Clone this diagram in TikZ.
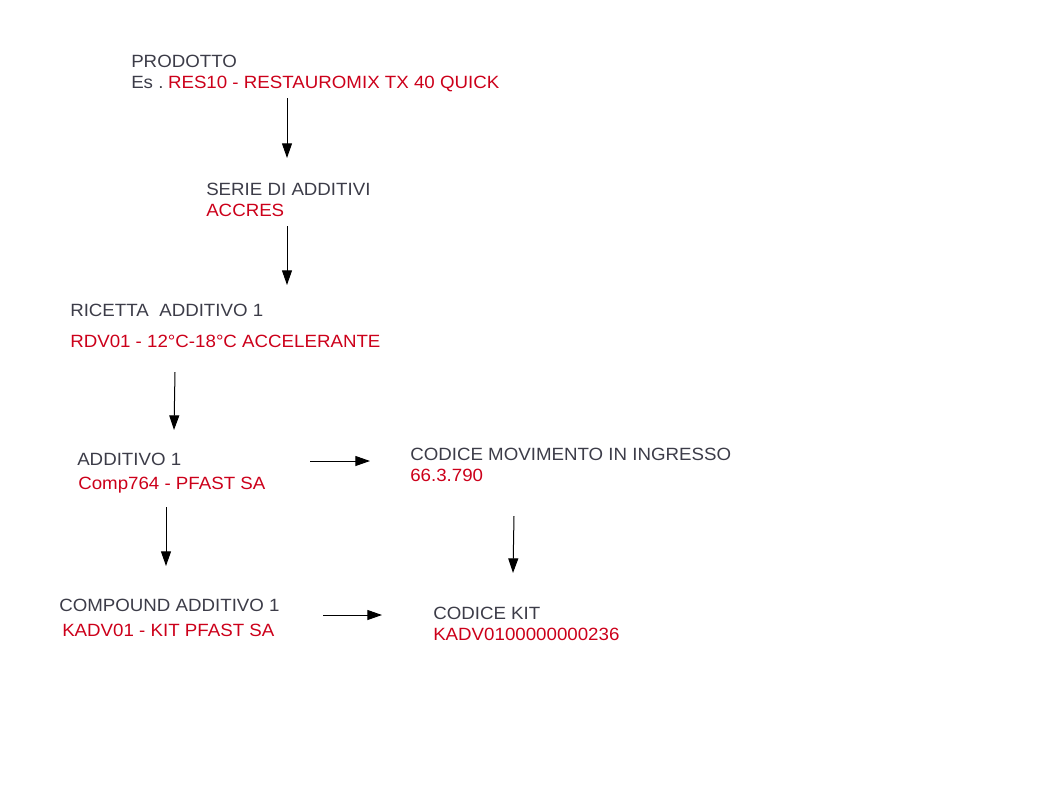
\documentclass[tikz,border=0pt]{standalone}
\usepackage{fontspec}
\setmainfont{Liberation Sans}[FakeStretch=1.055]
\usetikzlibrary{arrows.meta}
\definecolor{txtgray}{RGB}{60,60,72}
\definecolor{txtred}{RGB}{204,0,26}
\tikzset{
  lbl/.style={anchor=base west, inner sep=0pt, font=\fontsize{13.3pt}{16pt}\selectfont, text=txtgray},
  val/.style={lbl, text=txtred},
  conn/.style={line width=0.75pt, -{Triangle[length=11pt,width=7.5pt]}}
}
\begin{document}
\begin{tikzpicture}[x=0.75pt,y=-0.75pt]
\useasboundingbox (0,0) rectangle (1058,794);
% texts
\node[lbl] (prod) at (131,67) {PRODOTTO};
\node[lbl] (es) at (131,88) {Es .\kern3.4pt\textcolor{txtred}{RES10 - RESTAUROMIX TX 40 QUICK}};
\node[lbl] (serie) at (206,195) {SERIE DI ADDITIVI};
\node[val] (accres) at (206,216) {ACCRES};
\node[lbl] (ricetta) at (70,316) {RICETTA\ \ ADDITIVO 1};
\node[val] (rdv) at (70,347) {RDV01 - 12°C-18°C ACCELERANTE};
\node[lbl] (add) at (77,465) {ADDITIVO 1};
\node[val] (comp) at (78,489) {Comp764 - PFAST SA};
\node[lbl] (cod) at (410,460) {CODICE MOVIMENTO IN INGRESSO};
\node[val] (num) at (410,481) {66.3.790};
\node[lbl] (cmp) at (59,611) {COMPOUND ADDITIVO 1};
\node[val] (kadv) at (62,636) {KADV01 - KIT PFAST SA};
\node[lbl] (kit) at (433,619) {CODICE KIT};
\node[val] (kitv) at (433,640) {KADV0100000000236};
% connector end points
\coordinate (a1s) at (287,98);  \coordinate (a1e) at (287,158);
\coordinate (a2s) at (287,226); \coordinate (a2e) at (287,285);
\coordinate (a3s) at (175,372); \coordinate (a3e) at (174,430);
\coordinate (a4s) at (310,461); \coordinate (a4e) at (370,461);
\coordinate (a5s) at (166,507); \coordinate (a5e) at (166,566);
\coordinate (a6s) at (514,516); \coordinate (a6e) at (513,573);
\coordinate (a7s) at (323,615); \coordinate (a7e) at (382,615);
\draw[conn] (a1s) -- (a1e);
\draw[conn] (a2s) -- (a2e);
\draw[conn] (a3s) -- (a3e);
\draw[conn] (a4s) -- (a4e);
\draw[conn] (a5s) -- (a5e);
\draw[conn] (a6s) -- (a6e);
\draw[conn] (a7s) -- (a7e);
\end{tikzpicture}
\end{document}
